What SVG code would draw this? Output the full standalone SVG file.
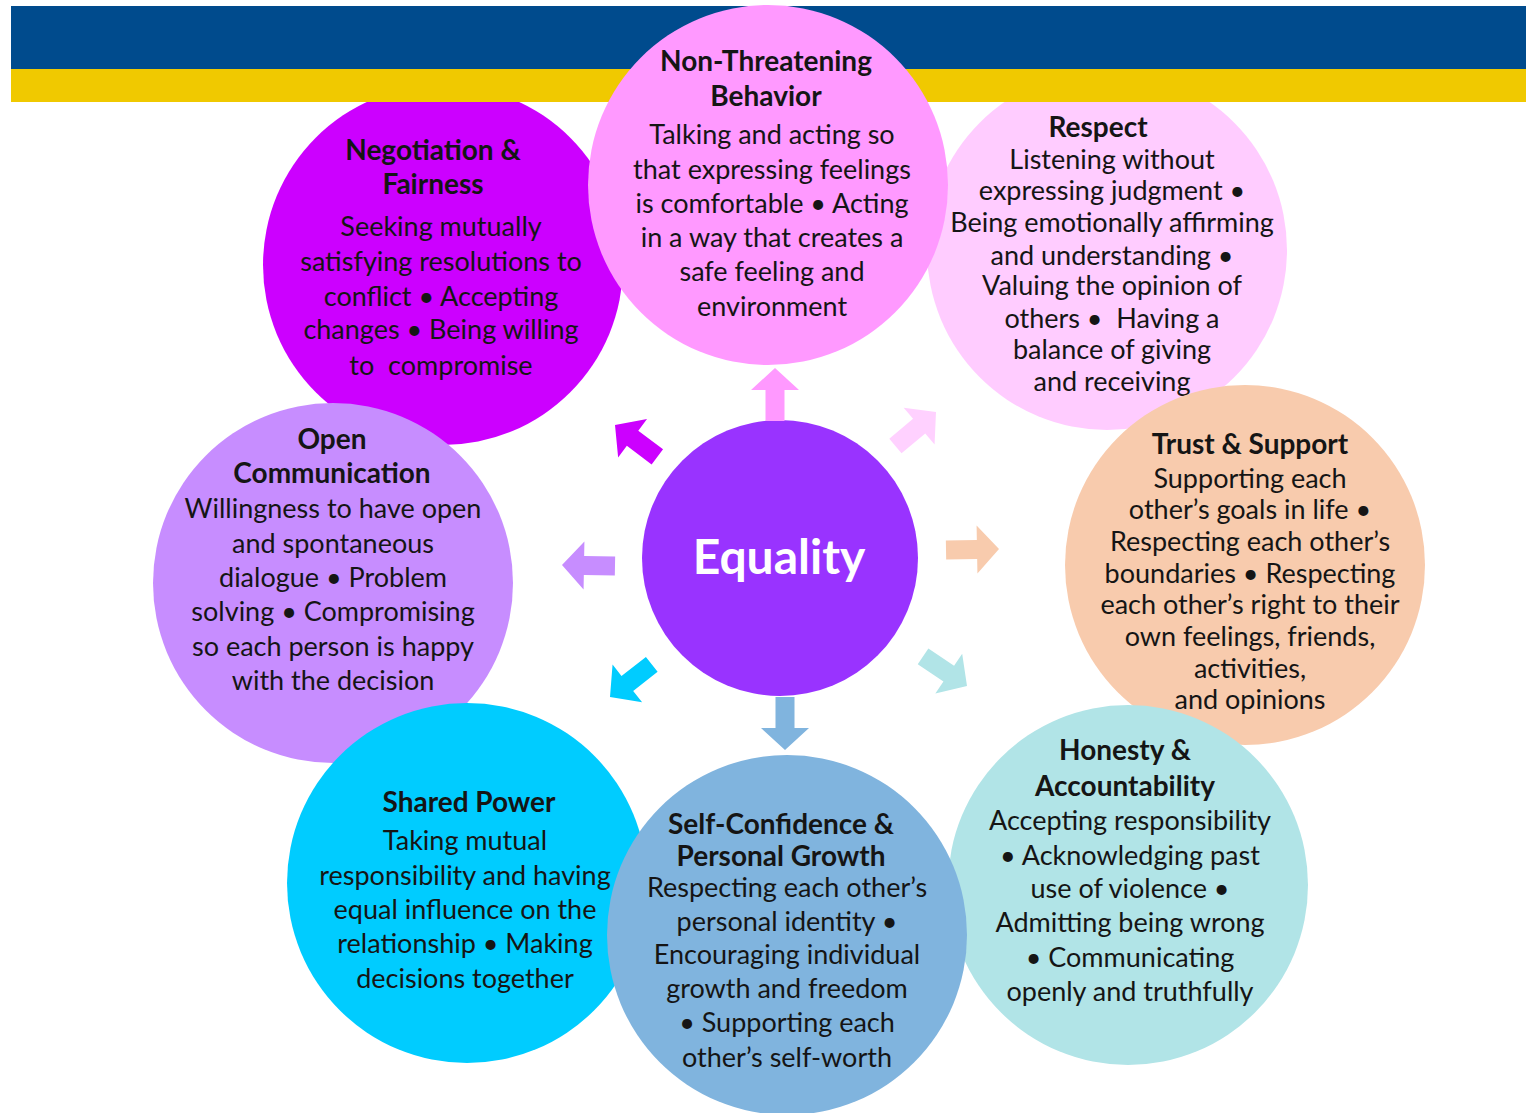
<svg xmlns="http://www.w3.org/2000/svg" width="1526" height="1113" viewBox="0 0 1526 1113">
<style>
.t{font-family:Lato,"Open Sans","Liberation Sans",sans-serif;font-size:27px;fill:#151515;text-anchor:middle}
.b{font-weight:700;font-size:28px}
.eq{font-family:Lato,"Open Sans","Liberation Sans",sans-serif;font-size:48px;font-weight:700;fill:#ffffff;text-anchor:middle}
</style>
<defs>
<path id="arr" d="M0 0 L-22 -24 L-22 -9.5 L-53 -9.5 L-53 9.5 L-22 9.5 L-22 24 Z"/>
</defs>
<rect width="1526" height="1113" fill="#ffffff"/>
<g id="respect-bg"><circle cx="1107" cy="250" r="180" fill="#FFCCFF"/></g>
<g id="negotiation-bg"><circle cx="443" cy="265" r="180" fill="#CC00FF"/></g>
<g id="banner">
<rect x="11" y="6" width="1515" height="63" fill="#004B8D"/>
<rect x="11" y="69" width="1515" height="33" fill="#F0C900"/>
</g>
<g id="negotiation">
<text class="t b" x="433" y="160">Negotiation &amp;</text>
<text class="t b" x="433" y="194">Fairness</text>
<text class="t" x="441" y="236">Seeking mutually</text>
<text class="t" x="441" y="271">satisfying resolutions to</text>
<text class="t" x="441" y="306">conflict • Accepting</text>
<text class="t" x="441" y="339">changes • Being willing</text>
<text class="t" x="441" y="375" xml:space="preserve">to  compromise</text>
</g>
<g id="respect">
<text class="t b" x="1098" y="137">Respect</text>
<text class="t" x="1112" y="169">Listening without</text>
<text class="t" x="1112" y="200">expressing judgment •</text>
<text class="t" x="1112" y="232">Being emotionally affirming</text>
<text class="t" x="1112" y="265">and understanding •</text>
<text class="t" x="1112" y="295">Valuing the opinion of</text>
<text class="t" x="1112" y="328" xml:space="preserve">others •  Having a</text>
<text class="t" x="1112" y="359">balance of giving</text>
<text class="t" x="1112" y="391">and receiving</text>
</g>
<g id="non-threatening">
<circle cx="768" cy="185" r="180" fill="#FF99FF"/>
<text class="t b" x="766" y="71">Non-Threatening</text>
<text class="t b" x="766" y="106">Behavior</text>
<text class="t" x="772" y="144">Talking and acting so</text>
<text class="t" x="772" y="179">that expressing feelings</text>
<text class="t" x="772" y="213">is comfortable • Acting</text>
<text class="t" x="772" y="247">in a way that creates a</text>
<text class="t" x="772" y="281">safe feeling and</text>
<text class="t" x="772" y="316">environment</text>
</g>
<g id="open-communication">
<circle cx="333" cy="583" r="180" fill="#C78DFF"/>
<text class="t b" x="332" y="449">Open</text>
<text class="t b" x="332" y="483">Communication</text>
<text class="t" x="333" y="518">Willingness to have open</text>
<text class="t" x="333" y="553">and spontaneous</text>
<text class="t" x="333" y="587">dialogue • Problem</text>
<text class="t" x="333" y="621">solving • Compromising</text>
<text class="t" x="333" y="656">so each person is happy</text>
<text class="t" x="333" y="690">with the decision</text>
</g>
<g id="trust-support">
<circle cx="1245" cy="565" r="180" fill="#F8CBAD"/>
<text class="t b" x="1250" y="454">Trust &amp; Support</text>
<text class="t" x="1250" y="488">Supporting each</text>
<text class="t" x="1250" y="519">other’s goals in life •</text>
<text class="t" x="1250" y="551">Respecting each other’s</text>
<text class="t" x="1250" y="583">boundaries • Respecting</text>
<text class="t" x="1250" y="614">each other’s right to their</text>
<text class="t" x="1250" y="646">own feelings, friends,</text>
<text class="t" x="1250" y="678">activities,</text>
<text class="t" x="1250" y="709">and opinions</text>
</g>
<g id="honesty-accountability">
<circle cx="1128" cy="885" r="180" fill="#B1E4E7"/>
<text class="t b" x="1125" y="760">Honesty &amp;</text>
<text class="t b" x="1125" y="796">Accountability</text>
<text class="t" x="1130" y="830">Accepting responsibility</text>
<text class="t" x="1130" y="865">• Acknowledging past</text>
<text class="t" x="1130" y="898">use of violence •</text>
<text class="t" x="1130" y="932">Admitting being wrong</text>
<text class="t" x="1130" y="967">• Communicating</text>
<text class="t" x="1130" y="1001">openly and truthfully</text>
</g>
<g id="shared-power">
<circle cx="467" cy="883" r="180" fill="#00CCFF"/>
<text class="t b" x="469" y="812">Shared Power</text>
<text class="t" x="465" y="850">Taking mutual</text>
<text class="t" x="465" y="885">responsibility and having</text>
<text class="t" x="465" y="919">equal influence on the</text>
<text class="t" x="465" y="953">relationship • Making</text>
<text class="t" x="465" y="988">decisions together</text>
</g>
<g id="self-confidence">
<circle cx="787" cy="935" r="180" fill="#80B4DE"/>
<text class="t b" x="781" y="834">Self-Confidence &amp;</text>
<text class="t b" x="781" y="866">Personal Growth</text>
<text class="t" x="787" y="897">Respecting each other’s</text>
<text class="t" x="787" y="931">personal identity •</text>
<text class="t" x="787" y="964">Encouraging individual</text>
<text class="t" x="787" y="998">growth and freedom</text>
<text class="t" x="787" y="1032">• Supporting each</text>
<text class="t" x="787" y="1067">other’s self-worth</text>
</g>
<g id="equality">
<circle cx="780" cy="558" r="138" fill="#9933FF"/>
<text class="eq" x="779" y="574">Equality</text>
</g>
<g id="connectors">
<use href="#arr" fill="#FF99FF" transform="translate(775,368) rotate(-90)"/>
<use href="#arr" fill="#FFD1FF" transform="translate(936,412) rotate(-40)"/>
<use href="#arr" fill="#F8CBAD" transform="translate(999,549) rotate(-1)"/>
<use href="#arr" fill="#B1E4E7" transform="translate(967,686) rotate(34)"/>
<use href="#arr" fill="#80B4DE" transform="translate(785,750) rotate(90)"/>
<use href="#arr" fill="#00CCFF" transform="translate(610,697) rotate(142)"/>
<use href="#arr" fill="#C78DFF" transform="translate(562,565) rotate(181)"/>
<use href="#arr" fill="#CC00FF" transform="translate(615,425) rotate(217)"/>
</g>
</svg>
